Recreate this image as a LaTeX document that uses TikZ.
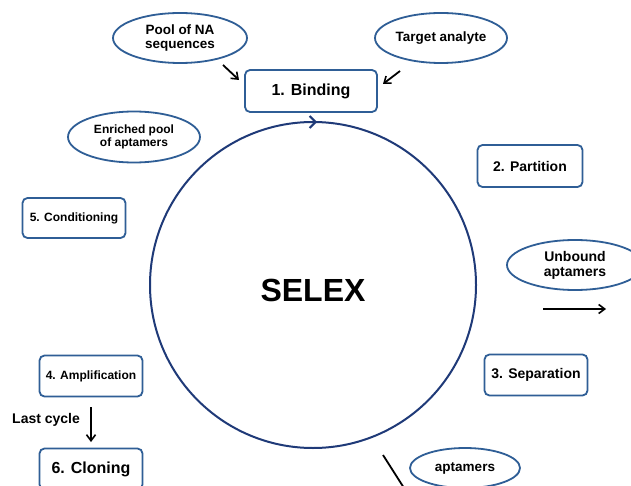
\documentclass[tikz,border=0pt]{standalone}
\usepackage{fontspec}
\setmainfont{Liberation Sans}
\usetikzlibrary{shapes.geometric,arrows.meta}
\definecolor{boxblue}{HTML}{2F5E96}
\definecolor{circblue}{HTML}{1F3A78}
\tikzset{
  stepbox/.style={draw=boxblue,line width=1.8pt,rounded corners=5pt,fill=white,
    minimum width=#1,minimum height=41pt,inner sep=0pt,font=\bfseries\fontsize{13}{15}\selectfont},
  stepbox/.default=103pt,
  oval/.style={draw=boxblue,line width=1.8pt,ellipse,minimum width=#1,minimum height=50pt,inner sep=0pt,
    align=center,font=\bfseries\fontsize{13.5}{14}\selectfont},
  oval/.default=134pt,
  blk/.style={-{Straight Barb[length=6pt,width=9pt,line width=1.6pt]},line width=1.8pt,black},
}
\begin{document}
\begin{tikzpicture}[x=1pt,y=-1pt]
\useasboundingbox[fill=white] (0,0) rectangle (631,486);
% central cycle
\node[circle,draw=circblue,line width=2pt,minimum size=326pt,inner sep=0pt] (cyc) at (313,285) {};
\coordinate (ctop) at (313,122);
\draw[circblue,line width=2pt,-{Straight Barb[length=6pt,width=12pt]}] (305,122) -- (ctop) -- +(4,0);
\node[font=\bfseries\fontsize{32}{32}\selectfont] (selex) at (313,290) {SELEX};
% steps
\node[stepbox=132pt,minimum height=42pt,font=\bfseries\fontsize{16}{18}\selectfont] (bind) at (311,91) {1. Binding};
\node[stepbox=105pt,minimum height=42pt,font=\bfseries\fontsize{14}{16}\selectfont] (part) at (530,166) {2. Partition};
\node[stepbox,font=\bfseries\fontsize{14}{16}\selectfont] (sep) at (536,375) {3. Separation};
\node[stepbox,font=\bfseries\fontsize{12}{14}\selectfont] (amp) at (91,376) {4. Amplification};
\node[stepbox,minimum height=40pt,font=\bfseries\fontsize{12}{14}\selectfont] (cond) at (74,218) {5. Conditioning};
\node[stepbox,font=\bfseries\fontsize{16}{18}\selectfont] (clon) at (91,469) {6. Cloning};
% ovals
\node[oval] (pool) at (180,38) {Pool of NA\\sequences};
\node[oval=132pt] (targ) at (441,38) {Target analyte};
\node[oval=132pt,minimum height=51pt,font=\bfseries\fontsize{12}{13}\selectfont] (enr) at (134,137) {Enriched pool\\of aptamers};
\node[oval=136pt,font=\bfseries\fontsize{14}{15}\selectfont] (unb) at (575,265) {Unbound\\aptamers};
\node[oval=110pt,minimum height=40pt] (apt) at (465,468) {aptamers};
% arrows
\coordinate (p1) at (223,65);
\coordinate (p2) at (239,80);
\draw[blk] (p1) -- (p2);
\coordinate (t1) at (400,71);
\coordinate (t2) at (383,84);
\draw[blk] (t1) -- (t2);
\coordinate (u1) at (543,309);
\coordinate (u2) at (606,309);
\draw[blk] (u1) -- (u2);
\coordinate (s1) at (383,455);
\coordinate (s2) at (404,488);
\draw[line width=1.8pt] (s1) -- (s2);
\node[font=\bfseries\fontsize{14}{16}\selectfont,anchor=west,inner sep=0pt] (last) at (12,420) {Last cycle};
\coordinate (a1) at (91,407);
\coordinate (a2) at (91,442);
\draw[blk] (a1) -- (a2);
\end{tikzpicture}
\end{document}
